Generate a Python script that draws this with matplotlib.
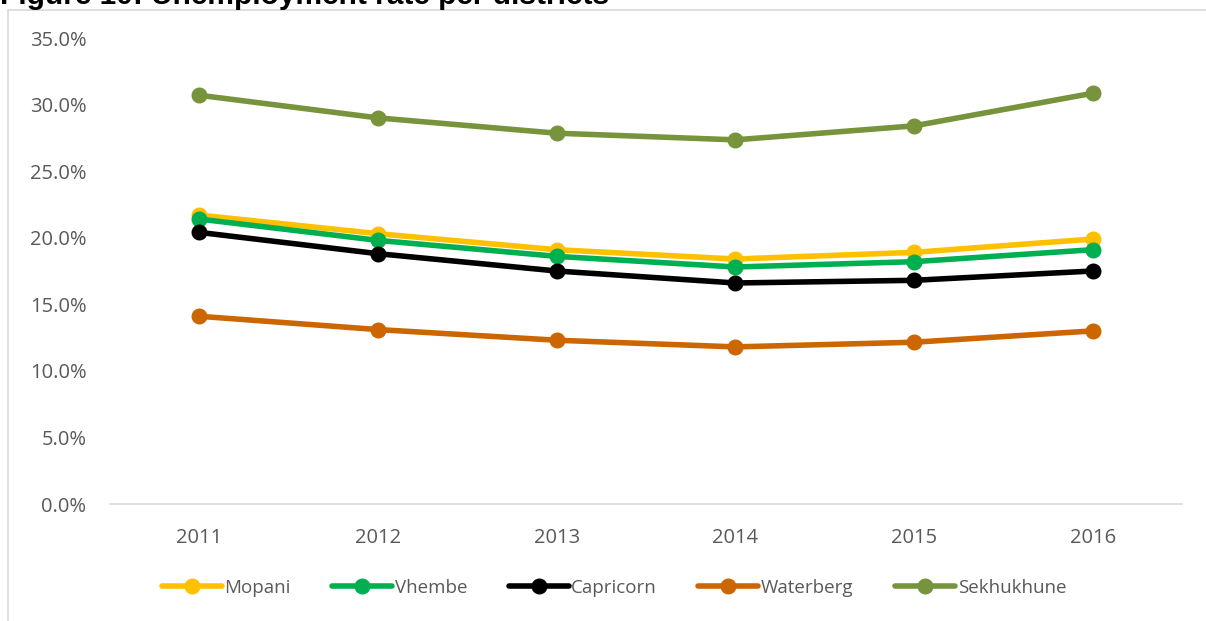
import matplotlib.pyplot as plt
from matplotlib.patches import Rectangle
from matplotlib.ticker import PercentFormatter

years = ['2011', '2012', '2013', '2014', '2015', '2016']
districts = ['Mopani', 'Vhembe', 'Capricorn', 'Waterberg', 'Sekhukhune']
mopani = [21.7, 20.3, 19.1, 18.4, 18.9, 19.9]
vhembe = [21.4, 19.8, 18.6, 17.8, 18.2, 19.1]
capricorn = [20.4, 18.8, 17.5, 16.6, 16.8, 17.5]
waterberg = [14.1, 13.1, 12.3, 11.8, 12.15, 13.0]
sekhukhune = [30.7, 29.0, 27.85, 27.35, 28.4, 30.85]
colors = ['#FFC000', '#00B050', '#000000', '#CC6600', '#77933C']

plt.rcParams['font.family'] = ['Open Sans', 'DejaVu Sans']

fig = plt.figure(figsize=(12.06, 6.21), dpi=100)
ax = fig.add_axes([110 / 1206, 1 - 504 / 621, 1072 / 1206, 466 / 621])

# chart frame (left and top edges visible)
fig.patches.append(Rectangle((8 / 1206, -0.1), 1.2, 1 - 10 / 621 + 0.1,
                             transform=fig.transFigure, fill=False,
                             edgecolor='#D9D9D9', linewidth=1.2))

# title, cut off at the top edge like in the source
fig.text(0.0, 1 - 4 / 621, 'Figure 10: Unemployment rate per districts',
         fontsize=21.5, fontweight='bold', family='Liberation Sans',
         va='baseline', ha='left', color='#000000')

x = range(len(years))
for name, vals, c in zip(districts, [mopani, vhembe, capricorn, waterberg, sekhukhune], colors):
    ax.plot(x, vals, color=c, linewidth=4, marker='o', markersize=10.5,
            label=name, solid_capstyle='round')

ax.set_xlim(-0.5, len(years) - 0.5)
ax.set_ylim(0, 35)
ax.set_yticks([0, 5, 10, 15, 20, 25, 30, 35])
ax.yaxis.set_major_formatter(PercentFormatter(decimals=1))
ax.set_xticks(list(x))
ax.set_xticklabels(years)

for s in ['top', 'right', 'left']:
    ax.spines[s].set_visible(False)
ax.spines['bottom'].set_color('#D9D9D9')
ax.spines['bottom'].set_linewidth(1.2)
ax.tick_params(axis='both', length=0, labelsize=14.5, colors='#595959')
ax.tick_params(axis='y', pad=17)
ax.tick_params(axis='x', pad=17)

fig.legend(loc='center', bbox_to_anchor=(0.509, 1 - 588 / 621), ncol=5,
           frameon=False, fontsize=13.5, handlelength=3.2, handletextpad=0.15,
           columnspacing=2.2, labelcolor='#595959')

fig.savefig('out.png', dpi=100)
